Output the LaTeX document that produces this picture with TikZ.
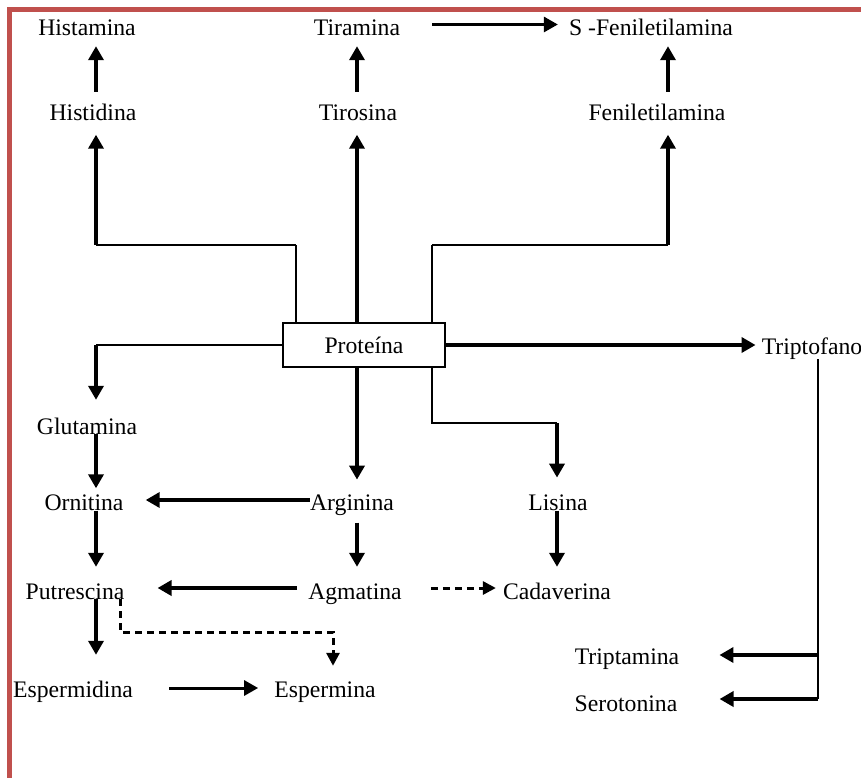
\documentclass[tikz,border=0pt]{standalone}
\usepackage{fontspec}
\setmainfont{Liberation Serif}
\usetikzlibrary{arrows.meta}
\definecolor{framered}{RGB}{192,80,77}
\begin{document}
\begin{tikzpicture}[x=1pt,y=-1pt,
  lbl/.style={inner sep=0pt,text height=16pt,text depth=5pt,font=\fontsize{23.7}{28}\selectfont},
  thinln/.style={line width=1.3pt},
  medln/.style={line width=1.9pt},
  arr/.style={line width=3.6pt,-{Triangle[length=14pt,width=15pt]}},
  darr/.style={line width=3pt,dash pattern=on 7pt off 5pt,-{Triangle[length=13pt,width=13pt]}},
  boxnode/.style={draw,line width=1.3pt,fill=white,minimum width=162pt,minimum height=44pt,inner sep=0pt,font=\fontsize{23.7}{28}\selectfont}
]
\useasboundingbox (0,0) rectangle (861,778);
% frame
\draw[framered,line width=5pt] (9.5,778) -- (9.5,10) -- (861,10);

% column coordinates
\coordinate (cA) at (96,0);
\coordinate (cB) at (357,0);
\coordinate (cC) at (668,0);
\coordinate (cL) at (557,0);
\coordinate (cT) at (818,0);
\coordinate (jL) at (296,245);
\coordinate (jLc) at (96,245);
\coordinate (jR) at (432,245);
\coordinate (jRc) at (668,245);
\coordinate (kR) at (432,423);
\coordinate (kRc) at (557,423);
\coordinate (dA) at (120,632);
\coordinate (dB) at (333,632);

% nodes
\node[lbl] (hism) at (87,30.5) {Histamina};
\node[lbl] (tira) at (357,30.5) {Tiramina};
\node[lbl] (sfen) at (651,30.5) {S -Feniletilamina};
\node[lbl] (hisd) at (93,115) {Histidina};
\node[lbl] (tiro) at (358,115) {Tirosina};
\node[lbl] (feni) at (657,115) {Feniletilamina};
\node[boxnode] (prot) at (364,345) {Proteína};
\node[lbl] (trip) at (812,348.5) {Triptofano};
\node[lbl] (glut) at (87,428.5) {Glutamina};
\node[lbl] (orn) at (84,505) {Ornitina};
\node[lbl] (arg) at (352,505) {Arginina};
\node[lbl] (lis) at (558,505) {Lisina};
\node[lbl] (putr) at (75,593.5) {Putrescina};
\node[lbl] (agm) at (355,593.5) {Agmatina};
\node[lbl] (cad) at (557,593.5) {Cadaverina};
\node[lbl] (esd) at (73,691.5) {Espermidina};
\node[lbl] (espm) at (325,691.5) {Espermina};
\node[lbl] (trpt) at (627,658.5) {Triptamina};
\node[lbl] (sero) at (626,705.5) {Serotonina};

% top row arrows
\draw[arr,shorten <=12.7pt,shorten >=5pt] (hisd.north -| cA) -- (hism.south -| cA);
\draw[arr,shorten <=12.7pt,shorten >=5pt] (tiro.north -| cB) -- (tira.south -| cB);
\draw[arr,shorten <=12.7pt,shorten >=5pt] (feni.north -| cC) -- (sfen.south -| cC);
\draw[arr,line width=3pt,shorten <=32pt,shorten >=11pt] ([yshift=6pt]tira.east) -- ([yshift=6pt]sfen.west);

% protein upward branches
\draw[thinln] (prot.north -| jL) -- (jL);
\draw[medln] (jL) -- (jLc);
\draw[arr,shorten >=9pt] (jLc) -- (hisd.south -| jLc);
\draw[arr,shorten >=9pt] (prot.north -| cB) -- (tiro.south -| cB);
\draw[thinln] (prot.north -| jR) -- (jR);
\draw[medln] (jR) -- (jRc);
\draw[arr,shorten >=9pt] (jRc) -- (feni.south -| jRc);

% protein left / down / right
\draw[thinln] (prot.west) -- (prot.west -| cA);
\draw[arr,shorten >=18pt] (prot.west -| cA) -- (glut.north -| cA);
\draw[arr,shorten >=14.7pt] (prot.south -| cB) -- (arg.north -| cB);
\draw[thinln] (prot.south -| kR) -- (kR) -- (kRc);
\draw[arr,shorten >=16.7pt] (kRc) -- (lis.north -| kRc);
\draw[arr,shorten >=6pt] (prot.east) -- (trip.west |- prot.east);

% lower arrows
\draw[arr,shorten >=6pt] (glut.base -| cA) -- (orn.north -| cA);
\draw[arr,shorten >=22pt] ([yshift=5pt]arg.west) -- ([yshift=5pt]orn.east);
\draw[arr,shorten >=16pt] (orn.base -| cA) -- (putr.north -| cA);
\draw[arr,shorten <=7pt,shorten >=16pt] (arg.south -| cB) -- (agm.north -| cB);
\draw[arr,shorten >=16pt] (lis.base -| cL) -- (cad.north -| cL);
\draw[arr,shorten <=11pt,shorten >=33pt] ([yshift=5.5pt]agm.west) -- ([yshift=5.5pt]putr.east);
\draw[darr,shorten <=29pt,shorten >=7pt] ([yshift=5.5pt]agm.east) -- ([yshift=5.5pt]cad.west);
\draw[arr,shorten >=26pt] (putr.base -| cA) -- (esd.north -| cA);
\draw[darr,shorten >=15pt] (putr.base -| dA) -- (dA) -- (dB) -- (espm.north -| dB);
\draw[arr,line width=3pt,shorten <=36pt,shorten >=16pt] ([yshift=3.5pt]esd.east) -- ([yshift=3.5pt]espm.west);

% triptofano branch
\coordinate (t1) at (818,655);
\coordinate (t2) at (818,699);
\draw[thinln] (trip.south -| cT) -- (t2);
\draw[arr,shorten >=40pt] (t1) -- (trpt.east |- t1);
\draw[arr,shorten >=42pt] (t2) -- (sero.east |- t2);
\end{tikzpicture}
\end{document}
